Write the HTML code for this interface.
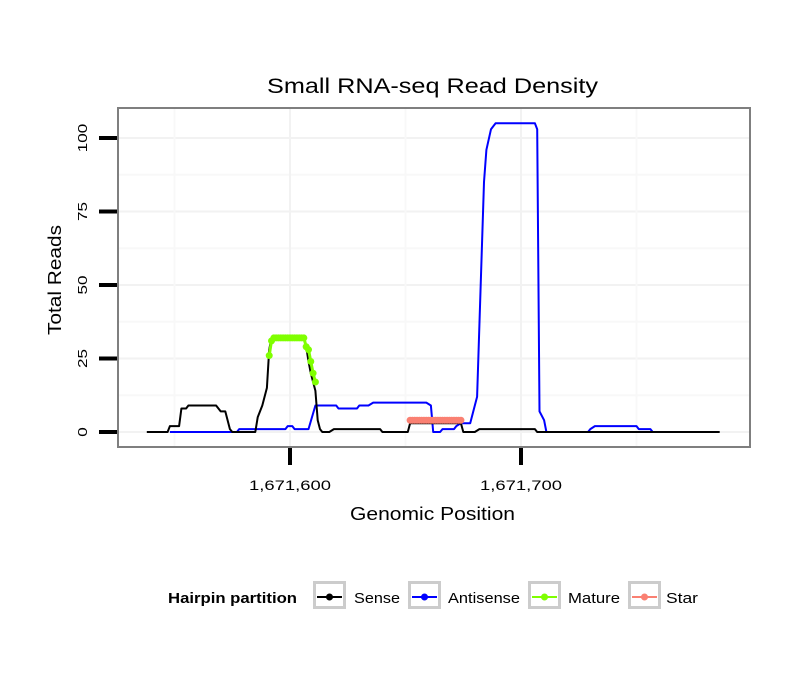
<!DOCTYPE html>
<html><head><meta charset="utf-8"><style>
body{margin:0;background:#fff;}
svg text{font-family:"Liberation Sans",sans-serif;}
</style></head><body>
<svg id="chart" width="810" height="690" xmlns="http://www.w3.org/2000/svg">
<rect width="810" height="690" fill="#fff"/>
<text x="267" y="93" font-size="21" textLength="331" lengthAdjust="spacingAndGlyphs">Small RNA-seq Read Density</text>
<rect x="118" y="108" width="632" height="339" fill="#fff"/>
<g id="grid"></g>
<g id="series"></g>
<rect x="118" y="108" width="632" height="339" fill="none" stroke="#7f7f7f" stroke-width="2"/>
<g id="axes"></g>
<text x="350" y="520" font-size="18" textLength="165" lengthAdjust="spacingAndGlyphs">Genomic Position</text>
<text transform="translate(61,335) rotate(-90)" font-size="18" textLength="110" lengthAdjust="spacingAndGlyphs">Total Reads</text>
<g>
<text x="168" y="603" font-size="15" font-weight="bold" textLength="129" lengthAdjust="spacingAndGlyphs">Hairpin partition</text>
<g><rect x="314.5" y="582.5" width="30" height="25" fill="#fff" stroke="#ccc" stroke-width="3"/><line x1="317" y1="597" x2="342" y2="597" stroke="#000" stroke-width="2"/><circle cx="329.5" cy="597" r="3.5" fill="#000"/><text x="354" y="603" font-size="15" textLength="46" lengthAdjust="spacingAndGlyphs">Sense</text></g>
<g><rect x="409.5" y="582.5" width="30" height="25" fill="#fff" stroke="#ccc" stroke-width="3"/><line x1="412" y1="597" x2="437" y2="597" stroke="#00f" stroke-width="2"/><circle cx="424.5" cy="597" r="3.5" fill="#00f"/><text x="448" y="603" font-size="15" textLength="72" lengthAdjust="spacingAndGlyphs">Antisense</text></g>
<g><rect x="529.5" y="582.5" width="30" height="25" fill="#fff" stroke="#ccc" stroke-width="3"/><line x1="532" y1="597" x2="557" y2="597" stroke="#7fff00" stroke-width="2"/><circle cx="544.5" cy="597" r="3.5" fill="#7fff00"/><text x="568" y="603" font-size="15" textLength="52" lengthAdjust="spacingAndGlyphs">Mature</text></g>
<g><rect x="629.5" y="582.5" width="30" height="25" fill="#fff" stroke="#ccc" stroke-width="3"/><line x1="632" y1="597" x2="657" y2="597" stroke="#fa8072" stroke-width="2"/><circle cx="644.5" cy="597" r="3.5" fill="#fa8072"/><text x="666" y="603" font-size="15" textLength="32" lengthAdjust="spacingAndGlyphs">Star</text></g>
</g>
</svg>
<script>
// positions are offsets from 1,671,600
const senseX = [-62,-53,-52,-48,-47,-45,-44,-32,-30,-28,-26,-25,-15,-14,-12,-10,-9,-8,2,6,7,8,9,10,11,12,13,14,17,19,39,40,51,52,74,75,80,82,106,107,186];
const senseY = [0,0,2,2,8,8,9,9,7,7,1,0,0,5,9,15,28,32,32,32,29,24,20,17,14,4,1,0,0,1,1,0,0,3,3,0,0,1,1,0,0];
const antiX = [-52,-23,-22,-2,-1,1,2,8,11,20,21,29,30,34,36,59,61,62,65,66,71,72,74,78,81,84,85,87,89,106,107,108,110,111,129,130,132,150,151,156,157];
const antiY = [0,0,1,1,2,2,1,1,9,9,8,8,9,9,10,10,9,0,0,1,1,2,3,3,12,85,96,103,105,105,103,7,4,0,0,1,2,2,1,1,0];
const matureX = [-9,-8,-7,-6,-5,-4,-3,-2,-1,0,1,2,3,4,5,6,7,8,9,10,11];
const matureY = [26,31,32,32,32,32,32,32,32,32,32,32,32,32,32,32,29,28,24,20,17];
const starX = [52,53,54,55,56,57,58,59,60,61,62,63,64,65,66,67,68,69,70,71,72,73,74];
const starY = [4,4,4,4,4,4,4,4,4,4,4,4,4,4,4,4,4,4,4,4,4,4,4];
const yTicks = [0,25,50,75,100];
const xTicks = [1671600,1671700];
const xTickLabels = ["1,671,600","1,671,700"];

const NS = "http://www.w3.org/2000/svg";
const X0 = 1671600;
const sx = v => 290 + (v - X0) * 2.31;
const sxo = o => 290 + o * 2.31;
const sy = v => 432 - v * 2.94;
function mk(tag, attrs, parent){const e=document.createElementNS(NS,tag);for(const k in attrs)e.setAttribute(k,attrs[k]);parent.appendChild(e);return e;}
const grid=document.getElementById('grid'), series=document.getElementById('series'), axes=document.getElementById('axes');

for(let i=0;i<yTicks.length;i++){
  const l=mk('line',{x1:118,x2:750,y1:sy(yTicks[i]),y2:sy(yTicks[i]),stroke:'#f2f2f2','stroke-width':2},grid);
  
  
  if(i<yTicks.length-1){const m=(yTicks[i]+yTicks[i+1])/2;
    const l2=mk('line',{x1:118,x2:750,y1:sy(m),y2:sy(m),stroke:'#f8f8f8','stroke-width':2},grid);
    
    }
}
const step=xTicks[1]-xTicks[0];
for(let v=xTicks[0]-step;v<=xTicks[1]+step;v+=step/2){
  const px=sx(v); if(px<118||px>750)continue;
  const l=mk('line',{x1:px,x2:px,y1:108,y2:447,stroke:(v%step===0)?'#f2f2f2':'#f8f8f8','stroke-width':2},grid);
  
  
}
function path(xs,ys,color,name,w){
  const d=xs.map((x,i)=>(i?'L':'M')+sxo(x).toFixed(1)+','+sy(ys[i]).toFixed(1)).join('');
  const p=mk('path',{d:d,fill:'none',stroke:color,'stroke-width':w||2,'stroke-linejoin':'round'},series);
  
  
}
path(antiX,antiY,'#0000ff','antisense-line');
path(senseX,senseY,'#000000','sense-line');
function pts(xs,ys,color,name){
  path(xs,ys,color,name+'-line',3);
  xs.forEach((x,i)=>{const c=mk('circle',{cx:sxo(x),cy:sy(ys[i]),r:3.5,fill:color},series);
    
    });
}
pts(matureX,matureY,'#7fff00','mature');
pts(starX,starY,'#fa8072','star');
yTicks.forEach(v=>{
  const t=mk('line',{x1:99,x2:117,y1:sy(v),y2:sy(v),stroke:'#000','stroke-width':4},axes);
  
  
  const s=String(v);
  const tx=mk('text',{transform:`translate(87,${sy(v)}) rotate(-90)`,'font-size':13,'text-anchor':'middle',textLength:s.length*9.5,lengthAdjust:'spacingAndGlyphs'},axes);
  tx.textContent=s;
  
  
});
xTicks.forEach((v,i)=>{
  const t=mk('line',{x1:sx(v),x2:sx(v),y1:448,y2:465,stroke:'#000','stroke-width':4},axes);
  
  
  const tx=mk('text',{x:sx(v),y:490,'font-size':14,'text-anchor':'middle',textLength:82,lengthAdjust:'spacingAndGlyphs'},axes);
  tx.textContent=xTickLabels[i];
  
  
});
</script>
</body></html>
